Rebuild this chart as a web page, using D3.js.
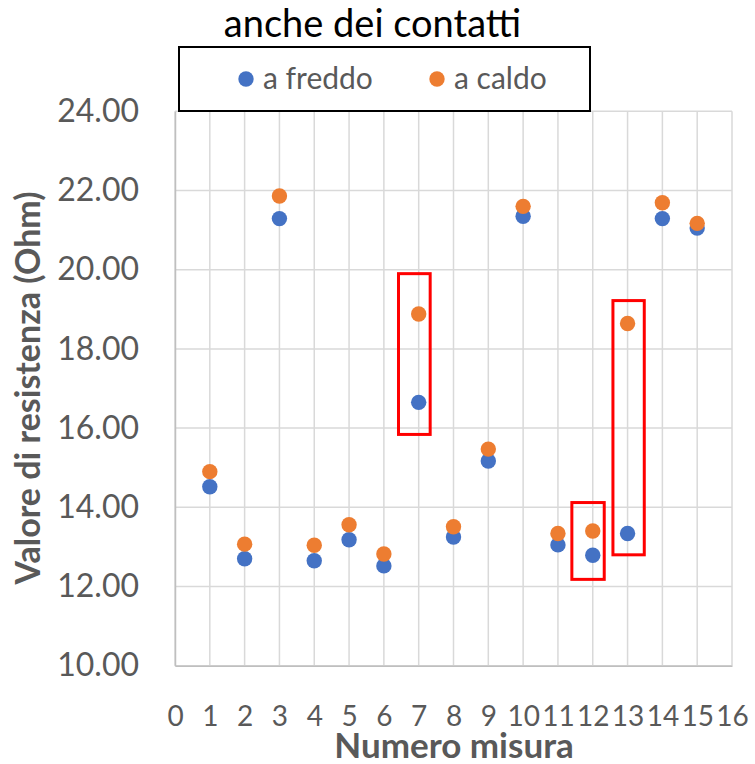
<!DOCTYPE html>
<html>
<head>
<meta charset="utf-8">
<script src="https://cdn.jsdelivr.net/npm/d3@7"></script>
<style>
  body { margin: 0; background: #fff; }
  text { font-family: Lato, "Open Sans", sans-serif; }
</style>
</head>
<body>
<svg id="svg" width="755" height="764"></svg>
<script>
// misure 1..15
var misure = [1, 2, 3, 4, 5, 6, 7, 8, 9, 10, 11, 12, 13, 14, 15];
var aFreddo = [14.52, 12.70, 21.29, 12.65, 13.18, 12.52, 16.65, 13.25, 15.17, 21.35, 13.05, 12.79, 13.34, 21.29, 21.05];
var aCaldo = [14.90, 13.07, 21.86, 13.04, 13.56, 12.82, 18.88, 13.51, 15.47, 21.60, 13.34, 13.40, 18.64, 21.69, 21.17];
var xTicks = [0, 1, 2, 3, 4, 5, 6, 7, 8, 9, 10, 11, 12, 13, 14, 15, 16];
var yTicks = [10, 12, 14, 16, 18, 20, 22, 24];
// riquadri rossi (in unita' dei dati)
var boxX0 = [6.42, 11.40, 12.58];
var boxX1 = [7.33, 12.33, 13.48];
var boxY0 = [15.84, 12.18, 12.80];
var boxY1 = [19.90, 14.12, 19.22];

var svg = d3.select("#svg");
var grey = "#595959";

var x = d3.scaleLinear().domain([0, 16]).range([175, 732]);
var y = d3.scaleLinear().domain([10, 24]).range([665.7, 111.3]);

// griglia
svg.append("g")
  .selectAll("line")
  .data(xTicks)
  .enter()
  .append("line")
  .attr("x1", function (d) { return x(d); })
  .attr("x2", function (d) { return x(d); })
  .attr("y1", y(24))
  .attr("y2", y(10))
  .attr("stroke", "#d9d9d9")
  .attr("stroke-width", 1.5);

svg.append("g")
  .selectAll("line")
  .data(yTicks)
  .enter()
  .append("line")
  .attr("x1", x(0))
  .attr("x2", x(16))
  .attr("y1", function (d) { return y(d); })
  .attr("y2", function (d) { return y(d); })
  .attr("stroke", "#d9d9d9")
  .attr("stroke-width", 1.5);

// assi
var yAxis = svg.append("g")
  .attr("transform", "translate(" + x(0) + ",0)")
  .call(d3.axisLeft(y).tickValues(yTicks).tickSize(0).tickPadding(36)
    .tickFormat(function (d) { return d3.format(".2f")(d); }));
yAxis.select(".domain").attr("stroke", "#bfbfbf").attr("stroke-width", 1.5);
yAxis.selectAll("text").attr("fill", grey).attr("font-size", 32)
  .style("font-family", "Lato, 'Open Sans', sans-serif");

var xAxis = svg.append("g")
  .attr("transform", "translate(0," + y(10) + ")")
  .call(d3.axisBottom(x).tickValues(xTicks).tickSize(0).tickPadding(40)
    .tickFormat(d3.format("d")));
xAxis.select(".domain").attr("stroke", "#bfbfbf").attr("stroke-width", 1.5);
xAxis.selectAll("text").attr("fill", grey).attr("font-size", 28)
  .style("font-family", "Lato, 'Open Sans', sans-serif");

// punti
var freddoData = misure.map(function (m, i) { return {x: m, y: aFreddo[i]}; });
var caldoData = misure.map(function (m, i) { return {x: m, y: aCaldo[i]}; });

svg.append("g")
  .selectAll("circle")
  .data(freddoData)
  .enter()
  .append("circle")
  .attr("cx", function (d) { return x(d.x); })
  .attr("cy", function (d) { return y(d.y); })
  .attr("r", 7.7)
  .attr("fill", "#4472c4");

svg.append("g")
  .selectAll("circle")
  .data(caldoData)
  .enter()
  .append("circle")
  .attr("cx", function (d) { return x(d.x); })
  .attr("cy", function (d) { return y(d.y); })
  .attr("r", 7.7)
  .attr("fill", "#ed7d31");

// riquadri
svg.append("g")
  .selectAll("rect")
  .data(boxX0)
  .enter()
  .append("rect")
  .attr("x", function (d, i) { return x(boxX0[i]); })
  .attr("y", function (d, i) { return y(boxY1[i]); })
  .attr("width", function (d, i) { return x(boxX1[i]) - x(boxX0[i]); })
  .attr("height", function (d, i) { return y(boxY0[i]) - y(boxY1[i]); })
  .attr("fill", "none")
  .attr("stroke", "#ff0000")
  .attr("stroke-width", 3);

// titolo
svg.append("text")
  .attr("x", 372.5)
  .attr("y", 37)
  .attr("text-anchor", "middle")
  .attr("font-size", 38)
  .attr("fill", "#000")
  .text("anche dei contatti");

// legenda
svg.append("rect")
  .attr("x", 179)
  .attr("y", 47)
  .attr("width", 411)
  .attr("height", 64)
  .attr("fill", "#fff")
  .attr("stroke", "#000")
  .attr("stroke-width", 2);

var legend = svg.append("g")
  .selectAll("g")
  .data([{name: "a freddo", color: "#4472c4", x: 246}, {name: "a caldo", color: "#ed7d31", x: 437}])
  .enter()
  .append("g")
  .attr("transform", function (d) { return "translate(" + d.x + ",79)"; });

legend.append("circle")
  .attr("r", 7.7)
  .attr("fill", function (d) { return d.color; });

legend.append("text")
  .attr("x", 17)
  .attr("y", 10)
  .attr("font-size", 30)
  .attr("fill", grey)
  .text(function (d) { return d.name; });

// titoli assi
svg.append("text")
  .attr("x", 454)
  .attr("y", 758)
  .attr("text-anchor", "middle")
  .attr("font-size", 35)
  .attr("font-weight", "bold")
  .attr("fill", grey)
  .text("Numero misura");

svg.append("text")
  .attr("transform", "translate(40,388) rotate(-90)")
  .attr("text-anchor", "middle")
  .attr("font-size", 34)
  .attr("font-weight", "bold")
  .attr("fill", grey)
  .text("Valore di resistenza (Ohm)");
</script>
</body>
</html>
